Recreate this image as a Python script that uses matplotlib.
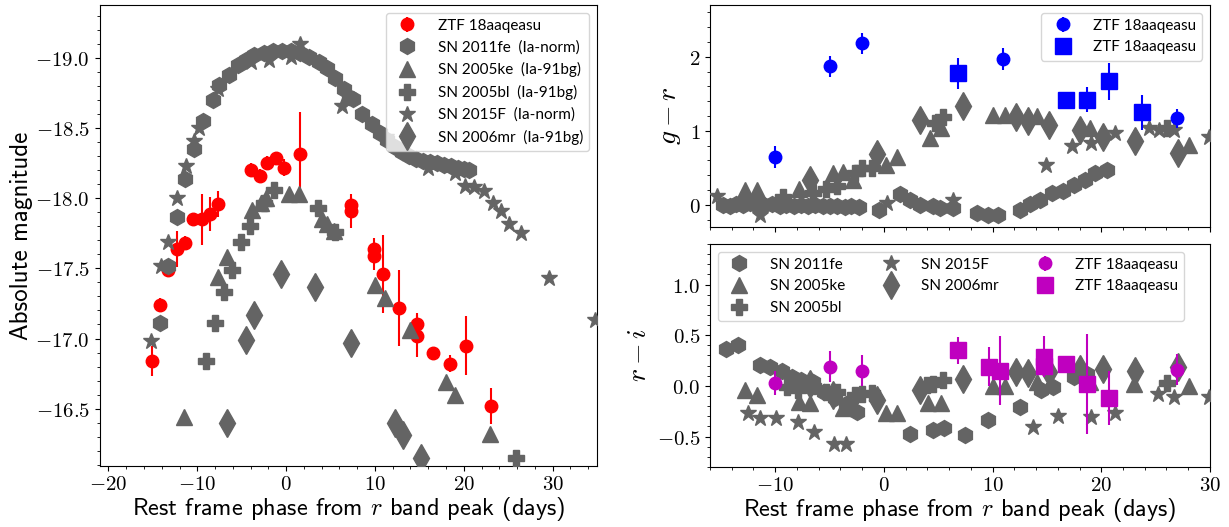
import matplotlib
matplotlib.use("Agg")
import matplotlib.pyplot as plt
from matplotlib.ticker import MultipleLocator, FuncFormatter

plt.rcParams['mathtext.fontset'] = 'cm'
plt.rcParams['font.family'] = ['Lato', 'DejaVu Sans']

GRAY = '#646464'

# ---------------- Left panel: r-band absolute magnitude ----------------
ztf_r_x = [-15.1, -14.25, -13.3, -12.27, -11.34, -10.45, -9.5, -8.58, -7.65, -3.95, -2.95, -2.1,
           -1.1, -0.25, 1.6, 7.32, 7.32, 9.94, 9.94, 10.87, 12.73, 14.68, 14.68, 16.54, 18.4, 20.2, 23.08]
ztf_r_y = [-16.84, -17.24, -17.49, -17.64, -17.68, -17.85, -17.85, -17.89, -17.96, -18.2, -18.16, -18.25,
           -18.29, -18.22, -18.32, -17.95, -17.91, -17.64, -17.59, -17.46, -17.22, -17.1, -17.02, -16.9,
           -16.82, -16.95, -16.52]
ztf_r_err = [0.11, 0.05, 0.05, 0.13, 0.05, 0.04, 0.18, 0.12, 0.09, 0.05, 0.05, 0.05,
             0.04, 0.06, 0.3, 0.06, 0.12, 0.08, 0.1, 0.28, 0.27, 0.08, 0.15, 0.03, 0.06, 0.21, 0.13]

fe11_x = [-14.25, -13.3, -12.27, -11.34, -10.33, -9.3, -8.27, -7.53, -6.48, -5.47, -4.54, -3.6, -2.5,
          -1.5, -0.44, 0.6, 1.6, 2.54, 3.66, 4.6, 5.53, 6.46, 7.13, 7.58, 8.52, 9.64, 10.57, 11.4, 12.25,
          13.0, 13.8, 14.6, 15.4, 16.2, 17.0, 17.8, 18.6, 19.4, 20.0, 20.6]
fe11_y = [-17.11, -17.52, -17.87, -18.14, -18.35, -18.55, -18.7, -18.81, -18.88, -18.95, -18.99, -19.02,
          -19.04, -19.05, -19.05, -19.05, -19.04, -19.01, -18.97, -18.93, -18.86, -18.78, -18.72, -18.71,
          -18.6, -18.53, -18.47, -18.42, -18.37, -18.33, -18.3, -18.28, -18.27, -18.26, -18.25, -18.24,
          -18.23, -18.22, -18.21, -18.2]

f15_x = [-15.18, -14.06, -13.3, -12.27, -11.26, -10.33, -9.77, -7.7, -4.0, -1.9, 0.5, 1.6, 6.28, 11.3,
         16.0, 19.0, 20.1, 21.2, 22.3, 23.26, 24.2, 25.1, 26.44, 29.6, 34.8]
f15_y = [-16.98, -17.52, -17.69, -18.0, -18.23, -18.41, -18.5, -18.78, -18.97, -18.99, -19.01, -19.1,
         -18.66, -18.44, -18.22, -18.18, -18.09, -18.08, -18.05, -17.97, -17.91, -17.82, -17.75, -17.43,
         -17.13]

ke05_x = [-11.5, -7.65, -6.67, -3.8, -2.87, -2.3, 0.3, 1.4, 4.0, 4.6, 5.34, 10.0, 11.1, 13.9, 18.0,
          18.97, 22.97]
ke05_y = [-16.44, -17.44, -17.58, -17.92, -17.97, -18.0, -18.03, -18.03, -17.85, -17.82, -17.77, -17.38,
          -17.29, -17.06, -16.69, -16.6, -16.32]

bl05_x = [-9.0, -7.98, -6.98, -6.04, -5.1, -4.1, -2.5, -1.38, 3.6, 5.53, 25.9]
bl05_y = [-16.84, -17.11, -17.33, -17.49, -17.69, -17.8, -17.97, -18.06, -17.93, -17.76, -16.15]

mr06_x = [-6.67, -4.55, -3.6, -0.63, 3.3, 7.25, 12.25, 13.2, 15.2]
mr06_y = [-16.4, -16.99, -17.17, -17.46, -17.37, -16.97, -16.4, -16.31, -16.15]

# ---------------- Right top: g - r ----------------
gr_ztf_c_x = [-9.98, -4.98, -2.0, 11.0, 27.0]
gr_ztf_c_y = [0.65, 1.87, 2.18, 1.97, 1.17]
gr_ztf_c_e = [0.15, 0.14, 0.14, 0.15, 0.13]
gr_ztf_s_x = [6.8, 16.75, 18.7, 20.7, 23.75]
gr_ztf_s_y = [1.78, 1.42, 1.42, 1.67, 1.25]
gr_ztf_s_e = [0.21, 0.05, 0.17, 0.25, 0.24]

gr_fe11_x = [-14.8, -14.2, -13.6, -13.0, -12.3, -11.6, -11.0, -10.3, -9.6, -9.0, -8.3, -7.6, -7.0, -6.3,
             -5.6, -5.0, -4.3, -3.6, -3.0, -2.3, -0.46, 1.47, 2.4, 3.3, 4.5, 5.2, 6.4, 8.54, 9.6, 10.5,
             12.5, 13.46, 14.4, 15.45, 16.5, 17.45, 18.5, 19.45, 20.5]
gr_fe11_y = [0.0, -0.01, 0.01, 0.0, 0.02, -0.01, 0.0, 0.01, -0.02, 0.0, -0.01, 0.0, -0.02, 0.0, -0.01,
             -0.02, -0.01, -0.03, -0.02, -0.03, -0.07, 0.15, 0.06, 0.0, -0.01, -0.05, -0.05, -0.11, -0.14,
             -0.14, -0.07, 0.01, 0.07, 0.16, 0.18, 0.27, 0.33, 0.43, 0.47]
gr_ke05_x = [-12.8, -11.7, -7.8, -4.67, -3.75, -2.83, 0.15, 1.23, 4.24, 5.3, 10.07, 11.15, 14.07, 19.0, 28.05]
gr_ke05_y = [0.2, 0.2, 0.22, 0.43, 0.44, 0.34, 0.54, 0.65, 0.9, 1.04, 1.22, 1.22, 1.2, 1.04, 0.81]
gr_bl05_x = [-9.3, -6.5, -5.3, -4.36, -2.67, -2.05, -1.13, 4.7, 5.47, 26.05]
gr_bl05_y = [0.11, 0.16, 0.22, 0.25, 0.43, 0.5, 0.5, 1.11, 1.19, 1.04]
gr_mr06_x = [-6.8, -0.68, 3.3, 7.25, 12.2, 13.3, 15.15, 18.06, 20.2, 23.1, 27.1]
gr_mr06_y = [0.34, 0.68, 1.14, 1.34, 1.19, 1.13, 1.08, 1.01, 0.92, 0.86, 0.7]
gr_f15_x = [-15.4, -11.4, 0.25, 6.4, 14.9, 17.3, 19.1, 21.3, 24.4, 25.3, 26.7, 29.9]
gr_f15_y = [0.12, -0.14, 0.02, 0.07, 0.54, 0.8, 0.83, 0.97, 1.04, 1.01, 1.01, 0.92]

# ---------------- Right bottom: r - i ----------------
ri_fe11_x = [-14.5, -13.4, -11.4, -10.5, -9.4, -8.5, -7.6, -6.5, -5.5, -4.5, -3.5, -2.5, 2.4, 4.5, 5.5,
             7.5, 9.55, 12.5, 14.5, 15.6, 17.45, 18.7]
ri_fe11_y = [0.36, 0.4, 0.21, 0.19, 0.15, 0.09, 0.06, 0.04, -0.06, -0.12, -0.18, -0.26, -0.47, -0.44,
             -0.42, -0.48, -0.34, -0.21, -0.04, -0.01, 0.09, 0.12]
ri_ke05_x = [-12.8, -11.7, -7.8, -6.8, -3.75, -2.83, 0.15, 1.23, 4.1, 5.3, 10.07, 11.15, 14.07, 19.0,
             23.0, 28.05]
ri_ke05_y = [-0.04, -0.09, -0.16, -0.17, -0.22, -0.2, -0.27, -0.27, -0.17, -0.17, 0.0, 0.0, 0.04, 0.04,
             0.02, 0.0]
ri_bl05_x = [-8.96, -7.9, -6.5, -5.3, -4.36, -2.67, -2.05, -1.13, 3.93, 4.55, 5.47, 26.05]
ri_bl05_y = [-0.01, -0.04, 0.0, -0.06, -0.06, -0.09, -0.08, -0.07, 0.01, 0.02, 0.06, 0.03]
ri_mr06_x = [-6.8, -4.67, -0.68, 3.3, 7.25, 12.2, 13.3, 15.15, 18.06, 20.2, 23.1, 27.1]
ri_mr06_y = [0.02, -0.09, -0.14, -0.04, 0.07, 0.14, 0.13, 0.14, 0.17, 0.17, 0.15, 0.19]
ri_f15_x = [-12.5, -11.4, -9.9, -7.9, -6.4, -4.6, -3.5, 13.76, 16.0, 19.1, 21.3, 25.2, 26.7, 29.9]
ri_f15_y = [-0.27, -0.32, -0.32, -0.36, -0.45, -0.57, -0.57, -0.41, -0.3, -0.31, -0.27, -0.08, -0.11,
            -0.11]
ri_ztf_c_x = [-9.98, -5.0, -2.0, 27.0]
ri_ztf_c_y = [0.03, 0.19, 0.15, 0.16]
ri_ztf_c_e = [0.12, 0.15, 0.15, 0.15]
ri_ztf_s_x = [6.8, 9.7, 10.7, 14.7, 14.7, 16.75, 18.7, 20.7]
ri_ztf_s_y = [0.35, 0.19, 0.15, 0.29, 0.2, 0.22, 0.02, -0.12]
ri_ztf_s_e = [0.13, 0.19, 0.34, 0.2, 0.1, 0.05, 0.49, 0.27]

# marker styles
MK = {'h': 11.5, '^': 11.5, 'P': 11, '*': 12, 'd': 14}

fig = plt.figure(figsize=(12.29, 5.27), dpi=100)
axL = fig.add_axes([0.081, 0.1157, 0.4048, 0.8748])
axT = fig.add_axes([0.5777, 0.5693, 0.4068, 0.4212])
axB = fig.add_axes([0.5777, 0.1139, 0.4068, 0.4231])

LEG_FONT = {'family': 'Lato', 'size': 11}
LBL_FONT = 'cmss10'


def mathfmt(dec):
    def f(v, p):
        s = f"{v:.{dec}f}"
        if s.startswith('-') and float(s) == 0:
            s = s[1:]
        return f"${s}$"
    return FuncFormatter(f)


def gp(ax, x, y, m, label=None):
    return ax.plot(x, y, linestyle='none', marker=m, color=GRAY, markersize=MK[m], label=label,
                   zorder=3)[0]


# left
hz = axL.errorbar(ztf_r_x, ztf_r_y, yerr=ztf_r_err, fmt='o', color='red', ms=9, elinewidth=1.5,
                  label='ZTF 18aaqeasu', zorder=2)
h1 = gp(axL, fe11_x, fe11_y, 'h', 'SN 2011fe  (Ia-norm)')
h2 = gp(axL, ke05_x, ke05_y, '^', 'SN 2005ke  (Ia-91bg)')
h3 = gp(axL, bl05_x, bl05_y, 'P', 'SN 2005bl  (Ia-91bg)')
h4 = gp(axL, f15_x, f15_y, '*', 'SN 2015F  (Ia-norm)')
h5 = gp(axL, mr06_x, mr06_y, 'd', 'SN 2006mr  (Ia-91bg)')
axL.set_xlim(-21, 35)
axL.set_ylim(-16.09, -19.38)
axL.xaxis.set_major_locator(MultipleLocator(10))
axL.xaxis.set_minor_locator(MultipleLocator(2))
axL.yaxis.set_major_locator(MultipleLocator(0.5))
axL.yaxis.set_minor_locator(MultipleLocator(0.1))
axL.xaxis.set_major_formatter(mathfmt(0))
axL.yaxis.set_major_formatter(mathfmt(1))
axL.set_xlabel('Rest frame phase from $r$ band peak (days)', fontfamily=LBL_FONT, fontsize=17.5,
               labelpad=1)
axL.set_ylabel('Absolute magnitude', fontfamily=LBL_FONT, fontsize=18, labelpad=2)
legL = axL.legend([hz, h1, h2, h3, h4, h5], [h.get_label() for h in [hz, h1, h2, h3, h4, h5]],
                  loc='upper right', prop=LEG_FONT, handletextpad=1.0)
legL.set_zorder(10)

# top right
gp(axT, gr_fe11_x, gr_fe11_y, 'h')
gp(axT, gr_ke05_x, gr_ke05_y, '^')
gp(axT, gr_bl05_x, gr_bl05_y, 'P')
gp(axT, gr_f15_x, gr_f15_y, '*')
gp(axT, gr_mr06_x, gr_mr06_y, 'd')
axT.errorbar(gr_ztf_c_x, gr_ztf_c_y, yerr=gr_ztf_c_e, fmt='o', color='blue', ms=9, elinewidth=1.5,
             label='ZTF 18aaqeasu', zorder=4)
axT.errorbar(gr_ztf_s_x, gr_ztf_s_y, yerr=gr_ztf_s_e, fmt='s', color='blue', ms=11, elinewidth=1.5,
             label='ZTF 18aaqeasu', zorder=4)
axT.set_xlim(-16, 30)
axT.set_ylim(-0.3, 2.7)
axT.xaxis.set_major_locator(MultipleLocator(10))
axT.xaxis.set_minor_locator(MultipleLocator(2))
axT.yaxis.set_major_locator(MultipleLocator(1))
axT.yaxis.set_minor_locator(MultipleLocator(0.2))
axT.xaxis.set_major_formatter(FuncFormatter(lambda v, p: ''))
axT.yaxis.set_major_formatter(mathfmt(0))
axT.set_ylabel('$g-r$', fontsize=20)
axT.legend(loc='upper right', prop=LEG_FONT, handletextpad=1.0).set_zorder(10)

# bottom right
gp(axB, ri_fe11_x, ri_fe11_y, 'h', 'SN 2011fe')
gp(axB, ri_ke05_x, ri_ke05_y, '^', 'SN 2005ke')
gp(axB, ri_bl05_x, ri_bl05_y, 'P', 'SN 2005bl')
gp(axB, ri_f15_x, ri_f15_y, '*', 'SN 2015F')
gp(axB, ri_mr06_x, ri_mr06_y, 'd', 'SN 2006mr')
axB.errorbar(ri_ztf_c_x, ri_ztf_c_y, yerr=ri_ztf_c_e, fmt='o', color='m', ms=9, elinewidth=1.5,
             label='ZTF 18aaqeasu', zorder=4)
axB.errorbar(ri_ztf_s_x, ri_ztf_s_y, yerr=ri_ztf_s_e, fmt='s', color='m', ms=11, elinewidth=1.5,
             label='ZTF 18aaqeasu', zorder=4)
axB.set_xlim(-16, 30)
axB.set_ylim(-0.8, 1.4)
axB.xaxis.set_major_locator(MultipleLocator(10))
axB.xaxis.set_minor_locator(MultipleLocator(2))
axB.yaxis.set_major_locator(MultipleLocator(0.5))
axB.yaxis.set_minor_locator(MultipleLocator(0.1))
axB.xaxis.set_major_formatter(mathfmt(0))
axB.yaxis.set_major_formatter(mathfmt(1))
axB.set_xlabel('Rest frame phase from $r$ band peak (days)', fontfamily=LBL_FONT, fontsize=17.5,
               labelpad=1)
axB.set_ylabel('$r-i$', fontsize=20)
axB.legend(loc='upper left', prop=LEG_FONT, ncol=3, handletextpad=1.0).set_zorder(10)

for ax in (axL, axT, axB):
    ax.tick_params(axis='both', which='major', labelsize=15)
    ax.tick_params(axis='x', which='major', pad=2)

fig.savefig('out.png', dpi=100)
